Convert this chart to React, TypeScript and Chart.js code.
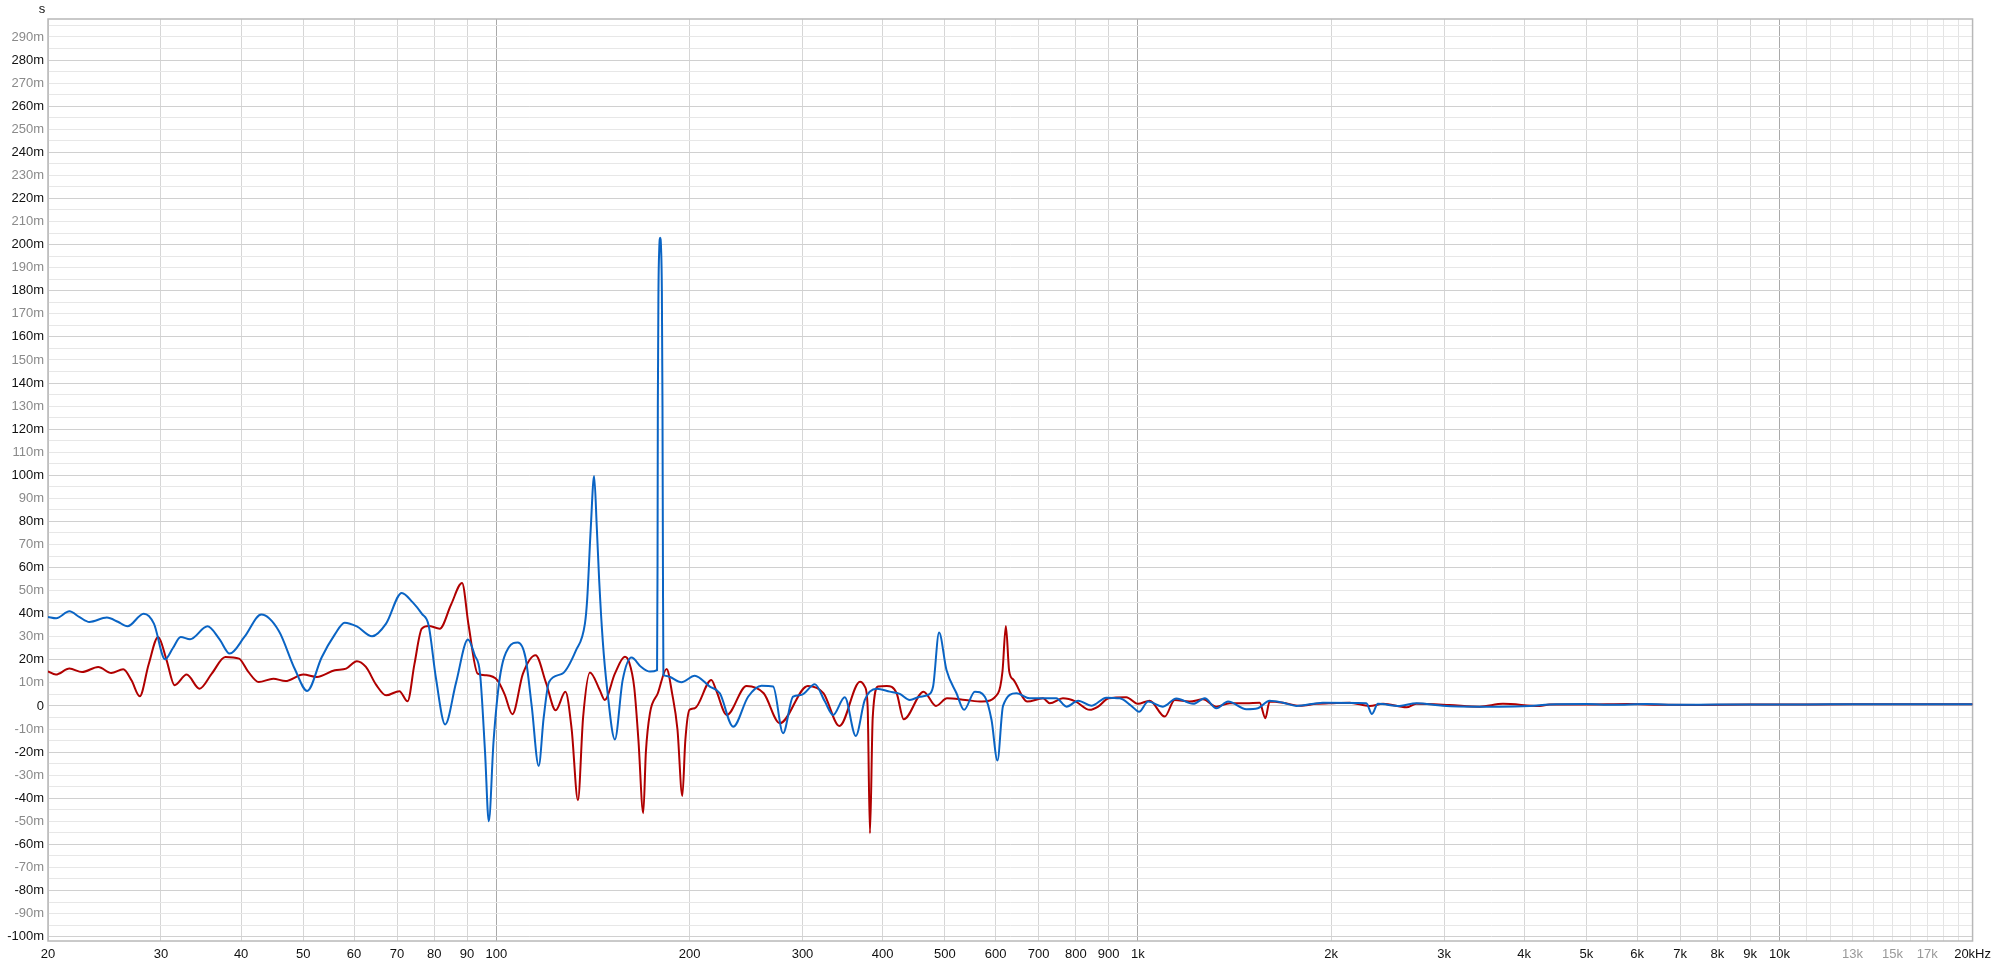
import React, { useEffect, useRef } from "react";
import { Chart, registerables } from "chart.js";

Chart.register(...registerables);

// ---- Data (group delay, milliseconds) ----
const blueFreq = [
  20, 20.6, 21.6, 22.4, 23.2, 24.7, 25.7, 26.6, 28.2, 29.25, 30.45, 31.3, 32.2, 33.3, 35.45, 37.0, 38.4, 40.5, 43.0,
  45.8, 48.5, 50.7, 53.4, 56.0, 58.0, 60.6, 64.0, 67.3, 71.2, 74.0, 76.5, 78.4, 80.5, 83.2, 86.5, 90.3, 92.5, 94.3,
  96.0, 97.3, 99.0, 101.2, 104.5, 108.0, 111.0, 113.5, 116.4, 118.5, 120.8, 126.7, 133.0, 137.4, 138.5, 140.3, 142.0,
  143.4, 144.6, 146.5, 148.7, 153.0, 157.3, 162.4, 168.0, 173.5, 178.0, 178.3, 178.5, 178.9, 179.4, 180.0, 180.6,
  181.1, 181.5, 181.8, 182.1, 184.2, 194.3, 203.8, 215.1, 223, 233.9, 246.8, 259, 270, 279.8, 290, 298.9, 313.6, 325,
  334.8, 349.2, 363.2, 375.2, 391.3, 410.4, 425.4, 440.9, 457, 470.8, 479.4, 489.8, 503, 521.4, 535.8, 556.9, 577.2,
  591.2, 604, 616.2, 646.6, 678.2, 711.2, 746, 774, 807, 846, 893, 937, 977, 1004, 1037, 1094, 1148, 1219, 1271, 1325,
  1382, 1476, 1538, 1604, 1683, 1766, 1942, 2270, 2316, 2366, 2558, 2716, 2988, 3368, 3662, 4080, 4382, 5000, 5500,
  6200, 7000, 8000, 9000, 10000, 12000, 14000, 17000, 20000,
];
const blueMs = [
  38.6, 38, 41, 38.5, 36.4, 38.3, 36.5, 34.5, 40, 35.7, 20.2, 25, 29.9, 28.9, 34.5, 29, 22.7, 30, 39.6,
  32.5, 16, 6.5, 21, 31, 36.1, 34.5, 30.2, 35.7, 49, 45, 40, 35, 12, -8, 10, 28.8, 22, 14,
  -20, -50, -15, 12, 25.3, 27.5, 21, 0, -26, -5, 10.4, 14, 24, 35.7, 46, 77, 99.7,
  77, 54.6, 28, 8.2, -14.5, 11.1, 21, 17, 14.9, 15.5, 60, 130, 180, 198, 203, 198,
  180, 130, 60, 13.4, 13, 10.3, 13.1, 8.4, 5.5, -9, 4, 8.8, 8.4, -11.8, 4, 4.8, 9.4, 2,
  -3.9, 3.8, -13, 2.6, 7.4, 6.2, 5.2, 2.6, 4, 4.8, 8.4, 31.8, 15.6, 5.5, -1.7, 6.2, 4,
  -6, -23.7, 0, 5.5, 3.3, 3.3, 3.3, -0.3, 2.3, 0.1, 3.6, 3.3, 0, -2.5, 1.9, -0.3, 3.2, 0.9, 3.3, -1,
  1.9, -1.4, -1, 2.3, 1.4, 0, 1.4, 1.2, -3.5, 0.9, 0, 1.2, 0.1, -0.3, -0.3, 0, 0.6, 0.8, 0.5,
  0.8, 0.5, 0.6, 0.6, 0.6, 0.7, 0.7, 0.7, 0.7,
];

const redFreq = [
  20, 20.57, 21.6, 22.6, 23.95, 25.1, 26.2, 27.0, 27.8, 28.7, 29.7, 30.6, 31.5, 32.9, 34.45, 36.0, 37.8, 39.7, 41.0,
  42.6, 44.9, 46.9, 50.0, 52.5, 56.0, 58.3, 60.6, 62.6, 65, 67.3, 70.6, 72.7, 74.5, 76.5, 78.4, 81.6, 85, 88.4, 90.5,
  93.5, 96.5, 100.4, 103, 105.9, 110, 115.1, 119.5, 123.7, 128.1, 131, 134.0, 136.5, 139.9, 144.9, 147.5, 153, 158.6,
  161, 164, 166.5, 169.4, 171, 173.5, 178.5, 184.2, 188, 191.5, 194.9, 197, 200, 203.8, 216.3, 220, 228.6, 245.4, 261,
  276.6, 305.8, 323.6, 342.5, 368.8, 375.2, 379, 382.2, 386, 393.6, 406, 420.6, 431.5, 463.3, 484.4, 504, 538, 571.4,
  605.3, 615, 622.5, 630, 640, 672.2, 711.2, 728.6, 764, 800, 841, 867, 900, 959, 1000, 1043, 1101, 1141, 1204, 1263,
  1325, 1390, 1476, 1548, 1580, 1604, 1683, 1788, 1898, 2014, 2138, 2297, 2410, 2622, 2716, 3060, 3410, 3707, 4229,
  4382, 5000, 5800, 6500, 7500, 9000, 10000, 13000, 20000,
];
const redMs = [
  15, 13.6, 16.2, 14.7, 16.9, 14.3, 15.9, 11, 4.2, 18, 29.9, 20, 9, 13.6, 7.5, 14, 21.2, 20.5, 15,
  10.4, 11.8, 10.8, 13.6, 12.6, 15.5, 16.2, 19.4, 16.9, 9, 4.6, 6.4, 2, 18, 33.5, 34.7, 33.5, 44, 53.3, 35,
  14, 13.3, 11.1, 5, -3.6, 14, 22, 10, -1.9, 6.1, -10, -40.9, -5, 14.5, 6.9, 2.6, 14, 21.3,
  19, 8, -15, -46.5, -20, -3.2, 5.5, 16, 5, -10, -39, -15, -1.7, -1, 11.3, 6.9, -3.9, 8.7, 5.5,
  -7.5, 8.7, 5.5, -8.7, 10.5, 8.4, 0, -55.2, -5, 8.4, 8.7, 5.5, -5.8, 6.2, 0, 3.3, 2.6, 1.9,
  5.5, 15, 34.7, 15, 11.3, 1.9, 3.3, 1.2, 3.3, 1.9, -1.7, -0.3, 3.3, 3.8, 0.9, 2.3, -4.6, 2.6, 1.9, 2.9,
  -0.3, 1.2, 1.2, 1.4, -5.3, 1.9, 1.4, 0.1, 0.9, 1.2, 1.4, 0, 0.9, -0.6, 0.9, 0.4, -0.3, 0.9, 0,
  0.6, 0.6, 0.8, 0.5, 0.4, 0.6, 0.6, 0.7, 0.7,
];

// ---- Axis ticks ----
const xTickValues = [
  20, 30, 40, 50, 60, 70, 80, 90, 100, 200, 300, 400, 500, 600, 700, 800, 900, 1000, 2000, 3000, 4000, 5000, 6000,
  7000, 8000, 9000, 10000, 11000, 12000, 13000, 14000, 15000, 16000, 17000, 18000, 19000, 20000,
];
const xTickLabels = [
  "20", "30", "40", "50", "60", "70", "80", "90", "100", "200", "300", "400", "500", "600", "700", "800", "900", "1k",
  "2k", "3k", "4k", "5k", "6k", "7k", "8k", "9k", "10k", "", "", "13k", "", "15k", "", "17k", "", "", "20kHz",
];
const xGreyLabels = ["13k", "15k", "17k"];
const xMajorLines = [100, 1000, 10000];

const yMin = -101.9;
const yMax = 297.8;
const yTickValues: number[] = [];
for (let v = -100; v <= 295; v += 5) yTickValues.push(v);
const yTickLabels = yTickValues.map((v) => (v % 10 !== 0 ? "" : v === 0 ? "0" : `${v}m`));

const BLUE = "#0a64c4";
const RED = "#b00000";
const FONT = "'Liberation Sans', Arial, Helvetica, sans-serif";

const toPoints = (fs: number[], vs: number[]) => fs.map((f, i) => ({ x: f, y: vs[i] }));

const framePlugin = {
  id: "frame",
  beforeDatasetsDraw(chart: any) {
    const { ctx, chartArea } = chart;
    ctx.save();
    ctx.strokeStyle = "#b8b8b8";
    ctx.lineWidth = 1.5;
    ctx.strokeRect(chartArea.left, chartArea.top, chartArea.right - chartArea.left, chartArea.bottom - chartArea.top);
    ctx.restore();
  },
  afterDraw(chart: any) {
    const { ctx } = chart;
    ctx.save();
    ctx.fillStyle = "#111";
    ctx.font = `13px ${FONT}`;
    ctx.textAlign = "center";
    ctx.textBaseline = "middle";
    ctx.fillText("s", 42, 9);
    ctx.restore();
  },
};

export default function App() {
  const ref = useRef<HTMLCanvasElement>(null);

  useEffect(() => {
    const chart = new Chart(ref.current as HTMLCanvasElement, {
      type: "line",
      data: {
        datasets: [
          {
            label: "blue",
            data: toPoints(blueFreq, blueMs),
            borderColor: BLUE,
            borderWidth: 2,
            pointRadius: 0,
            cubicInterpolationMode: "monotone",
            fill: false,
          },
          {
            label: "red",
            data: toPoints(redFreq, redMs),
            borderColor: RED,
            borderWidth: 2,
            pointRadius: 0,
            cubicInterpolationMode: "monotone",
            fill: false,
          },
        ],
      },
      options: {
        responsive: false,
        animation: false,
        devicePixelRatio: 1,
        layout: { padding: { top: 19, right: 24, left: 0, bottom: 0 } },
        plugins: { legend: { display: false }, tooltip: { enabled: false } },
        scales: {
          x: {
            type: "logarithmic",
            min: 20,
            max: 20000,
            afterBuildTicks: (s: any) => {
              s.ticks = xTickValues.map((v) => ({ value: v }));
            },
            afterFit: (s: any) => {
              s.height = 26;
            },
            border: { display: false },
            grid: {
              drawTicks: false,
              lineWidth: 1,
              color: (ctx: any) => {
                const v = ctx.tick ? ctx.tick.value : 0;
                if (xMajorLines.includes(v)) return "#a9a9a9";
                if (v > 10000) return "#e4e4e4";
                return "#d6d6d6";
              },
            },
            ticks: {
              autoSkip: false,
              maxRotation: 0,
              minRotation: 0,
              padding: 6,
              font: { family: FONT, size: 13 },
              color: (ctx: any) => {
                const i = xTickValues.indexOf(ctx.tick ? ctx.tick.value : -1);
                return xGreyLabels.includes(xTickLabels[i]) ? "#999999" : "#111111";
              },
              callback: (_v: any, i: number) => xTickLabels[i],
            },
          },
          y: {
            type: "linear",
            min: yMin,
            max: yMax,
            afterBuildTicks: (s: any) => {
              s.ticks = yTickValues.map((v) => ({ value: v }));
            },
            afterFit: (s: any) => {
              s.width = 48;
            },
            border: { display: false },
            grid: {
              drawTicks: false,
              lineWidth: 1,
              color: (ctx: any) => {
                const v = ctx.tick ? ctx.tick.value : 1;
                return v % 20 === 0 ? "#d0d0d0" : "#e7e7e7";
              },
            },
            ticks: {
              autoSkip: false,
              padding: 4,
              font: { family: FONT, size: 13 },
              color: (ctx: any) => {
                const v = ctx.tick ? ctx.tick.value : 1;
                return v % 20 === 0 ? "#111111" : "#8a8a8a";
              },
              callback: (_v: any, i: number) => yTickLabels[i],
            },
          },
        },
      },
      plugins: [framePlugin],
    } as any);
    return () => chart.destroy();
  }, []);

  return (
    <div style={{ position: "fixed", left: 0, top: 0, width: 1997, height: 967, background: "#ffffff" }}>
      <canvas ref={ref} width={1997} height={967} style={{ display: "block", width: 1997, height: 967 }} />
    </div>
  );
}
